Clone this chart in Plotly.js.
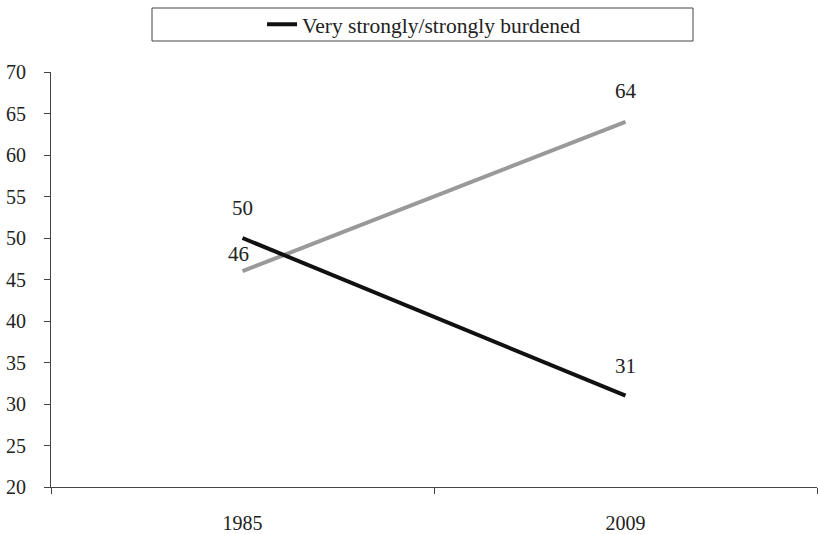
<!DOCTYPE html>
<html>
<head>
<meta charset="utf-8">
<script src="https://cdn.plot.ly/plotly-3.0.1.min.js"></script>
<style>html,body{margin:0;padding:0;background:#fff;}#chart{width:818px;height:534px;}</style>
</head>
<body>
<div id="chart"></div>
<script>
const years = ["1985", "2009"];
const burdened = [50, 31];
const otherSeries = [46, 64];
const yTicks = [20, 25, 30, 35, 40, 45, 50, 55, 60, 65, 70];
const burdenedName = "Very strongly/strongly burdened";

const FONT = "Liberation Serif";

const traces = [
  {
    x: years, y: otherSeries, type: "scatter", mode: "lines",
    line: {color: "#999999", width: 4}, showlegend: false, hoverinfo: "skip"
  },
  {
    x: years, y: burdened, type: "scatter", mode: "lines",
    name: burdenedName,
    line: {color: "#111111", width: 4}, showlegend: true, hoverinfo: "skip"
  }
];

const annotations = [];
burdened.forEach((v, i) => annotations.push({
  x: i, y: v, xref: "x", yref: "y", text: String(v), showarrow: false,
  yshift: 30, font: {family: FONT, size: 21, color: "#222"}
}));
otherSeries.forEach((v, i) => annotations.push({
  x: i, y: v, xref: "x", yref: "y", text: String(v), showarrow: false,
  yshift: i === 0 ? 17 : 31, xshift: i === 0 ? -4 : 0,
  font: {family: FONT, size: 21, color: "#222"}
}));

const layout = {
  width: 818, height: 534,
  margin: {l: 51, r: 1, t: 72, b: 47},
  paper_bgcolor: "#fff", plot_bgcolor: "#fff",
  font: {family: FONT, size: 20, color: "#222"},
  xaxis: {
    type: "category", range: [-0.5, 1.5], tickson: "boundaries",
    ticks: "outside", ticklen: 6, tickcolor: "#444", tickwidth: 1,
    showline: true, linecolor: "#444", linewidth: 1,
    showgrid: false, zeroline: false, ticklabelstandoff: 18,
    tickfont: {family: FONT, size: 20, color: "#222"}
  },
  yaxis: {
    range: [20, 70], tickvals: yTicks, ticktext: yTicks.map(String),
    ticks: "outside", ticklen: 6, tickcolor: "#444", tickwidth: 1,
    showline: true, linecolor: "#444", linewidth: 1,
    showgrid: false, zeroline: false, ticklabelstandoff: 14,
    tickfont: {family: FONT, size: 20, color: "#222"}
  },
  showlegend: true,
  legend: {
    orientation: "h", x: 0.487, xanchor: "center", y: 1.115, yanchor: "middle",
    bgcolor: "rgba(0,0,0,0)", borderwidth: 0,
    font: {family: FONT, size: 21.5, color: "#222"}
  },
  shapes: [{
    type: "rect", xref: "paper", yref: "paper",
    x0: (152 - 51) / 766, x1: (693 - 51) / 766,
    y0: (487 - 41) / 415, y1: (487 - 8) / 415,
    line: {color: "#444", width: 1}, fillcolor: "rgba(0,0,0,0)"
  }],
  annotations: annotations
};

Plotly.newPlot("chart", traces, layout, {staticPlot: true, displayModeBar: false});
</script>
</body>
</html>
